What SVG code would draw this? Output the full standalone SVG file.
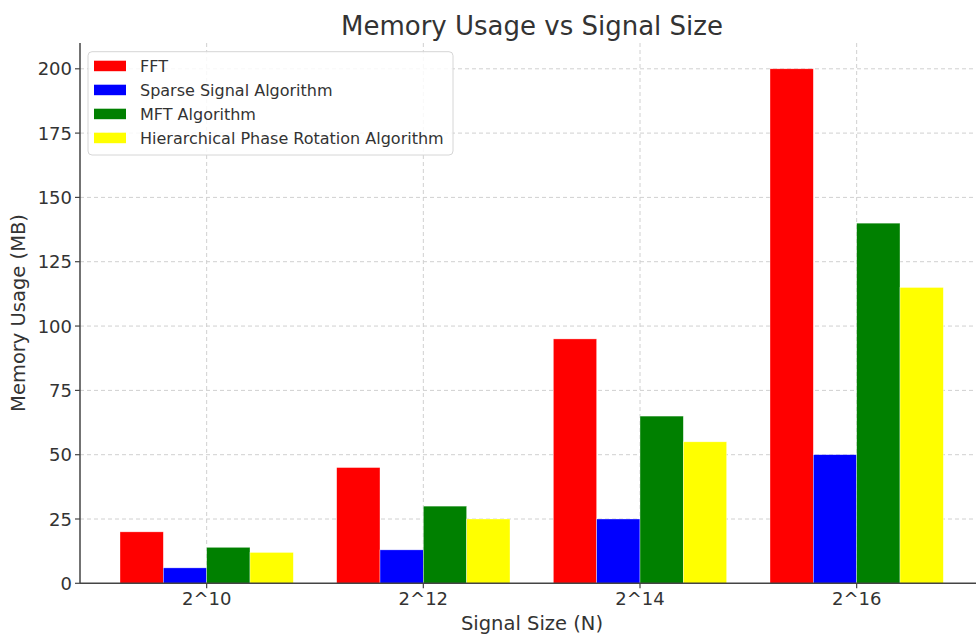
<svg xmlns="http://www.w3.org/2000/svg" width="976" height="634" viewBox="0 0 976 634">
<style>
text{font-family:"DejaVu Sans",Verdana,sans-serif;fill:#333}
.grid{stroke:#d0d0d0;stroke-width:1;stroke-dasharray:4,3;fill:none}
.spine{stroke:#444;stroke-width:1.5;fill:none}
.tick{stroke:#444;stroke-width:1.2}
.tl{font-size:18px}
.fft{fill:#ff0000}
.sp{fill:#0000ff}
.mft{fill:#008000}
.hpr{fill:#ffff00}
.bar{stroke:#ffffff;stroke-width:0.6;stroke-opacity:0.6}
.lg{font-size:16px}
</style>
<rect width="976" height="634" fill="#ffffff"/>
<g id="grid">
<line class="grid" x1="80" y1="519" x2="976" y2="519"/>
<line class="grid" x1="80" y1="454.7" x2="976" y2="454.7"/>
<line class="grid" x1="80" y1="390.4" x2="976" y2="390.4"/>
<line class="grid" x1="80" y1="326.05" x2="976" y2="326.05"/>
<line class="grid" x1="80" y1="261.7" x2="976" y2="261.7"/>
<line class="grid" x1="80" y1="197.4" x2="976" y2="197.4"/>
<line class="grid" x1="80" y1="133.1" x2="976" y2="133.1"/>
<line class="grid" x1="80" y1="68.8" x2="976" y2="68.8"/>
<line class="grid" x1="206.67" y1="43" x2="206.67" y2="583.3"/>
<line class="grid" x1="423.33" y1="43" x2="423.33" y2="583.3"/>
<line class="grid" x1="640" y1="43" x2="640" y2="583.3"/>
<line class="grid" x1="856.67" y1="43" x2="856.67" y2="583.3"/>
</g>
<g id="bars-fft">
<rect class="fft bar" x="120" y="531.85" width="43.33" height="51.45"/>
<rect class="fft bar" x="336.67" y="467.54" width="43.33" height="115.76"/>
<rect class="fft bar" x="553.33" y="338.91" width="43.33" height="244.39"/>
<rect class="fft bar" x="770" y="68.8" width="43.33" height="514.5"/>
</g>
<g id="bars-sparse">
<rect class="sp bar" x="163.33" y="567.87" width="43.33" height="15.43"/>
<rect class="sp bar" x="380" y="549.86" width="43.33" height="33.44"/>
<rect class="sp bar" x="596.67" y="518.99" width="43.33" height="64.31"/>
<rect class="sp bar" x="813.33" y="454.67" width="43.33" height="128.63"/>
</g>
<g id="bars-mft">
<rect class="mft bar" x="206.67" y="547.3" width="43.33" height="36"/>
<rect class="mft bar" x="423.33" y="506.12" width="43.33" height="77.18"/>
<rect class="mft bar" x="640" y="416.09" width="43.33" height="167.21"/>
<rect class="mft bar" x="856.67" y="223.15" width="43.33" height="360.15"/>
</g>
<g id="bars-hpr">
<rect class="hpr bar" x="250" y="552.43" width="43.33" height="30.87"/>
<rect class="hpr bar" x="466.67" y="518.99" width="43.33" height="64.31"/>
<rect class="hpr bar" x="683.33" y="441.81" width="43.33" height="141.49"/>
<rect class="hpr bar" x="900" y="287.46" width="43.33" height="295.84"/>
</g>
<g id="axes">
<line class="spine" x1="80" y1="43" x2="80" y2="583.3"/>
<line class="spine" x1="80" y1="583.3" x2="976" y2="583.3"/>
<line class="tick" x1="75" y1="583.3" x2="80" y2="583.3"/>
<line class="tick" x1="75" y1="519" x2="80" y2="519"/>
<line class="tick" x1="75" y1="454.7" x2="80" y2="454.7"/>
<line class="tick" x1="75" y1="390.4" x2="80" y2="390.4"/>
<line class="tick" x1="75" y1="326.05" x2="80" y2="326.05"/>
<line class="tick" x1="75" y1="261.7" x2="80" y2="261.7"/>
<line class="tick" x1="75" y1="197.4" x2="80" y2="197.4"/>
<line class="tick" x1="75" y1="133.1" x2="80" y2="133.1"/>
<line class="tick" x1="75" y1="68.8" x2="80" y2="68.8"/>
<line class="tick" x1="206.67" y1="583.3" x2="206.67" y2="588.3"/>
<line class="tick" x1="423.33" y1="583.3" x2="423.33" y2="588.3"/>
<line class="tick" x1="640" y1="583.3" x2="640" y2="588.3"/>
<line class="tick" x1="856.67" y1="583.3" x2="856.67" y2="588.3"/>
<g class="tl" text-anchor="end">
<text x="72" y="589.8">0</text>
<text x="72" y="525.5">25</text>
<text x="72" y="461.2">50</text>
<text x="72" y="396.9">75</text>
<text x="72" y="332.5">100</text>
<text x="72" y="268.2">125</text>
<text x="72" y="203.9">150</text>
<text x="72" y="139.6">175</text>
<text x="72" y="75.3">200</text>
</g>
<g class="tl" text-anchor="middle">
<text x="206.67" y="605">2^10</text>
<text x="423.33" y="605">2^12</text>
<text x="640" y="605">2^14</text>
<text x="856.67" y="605">2^16</text>
</g>
<text x="532" y="630" text-anchor="middle" font-size="19.5">Signal Size (N)</text>
<text transform="translate(25,313) rotate(-90)" text-anchor="middle" font-size="19.5">Memory Usage (MB)</text>
<text x="532" y="35" text-anchor="middle" font-size="26">Memory Usage vs Signal Size</text>
</g>
<g id="legend">
<rect x="88" y="51.7" width="365" height="103.3" rx="4" ry="4" fill="#ffffff" fill-opacity="0.85" stroke="#d6d6d6" stroke-width="1"/>
<rect class="fft" x="94" y="60.7" width="32" height="10.5"/>
<rect class="sp" x="94" y="84.7" width="32" height="10.5"/>
<rect class="mft" x="94" y="108.7" width="32" height="10.5"/>
<rect class="hpr" x="94" y="132.7" width="32" height="10.5"/>
<text class="lg" x="140" y="71.8">FFT</text>
<text class="lg" x="140" y="95.8">Sparse Signal Algorithm</text>
<text class="lg" x="140" y="119.8">MFT Algorithm</text>
<text class="lg" x="140" y="143.8">Hierarchical Phase Rotation Algorithm</text>
</g>
</svg>
